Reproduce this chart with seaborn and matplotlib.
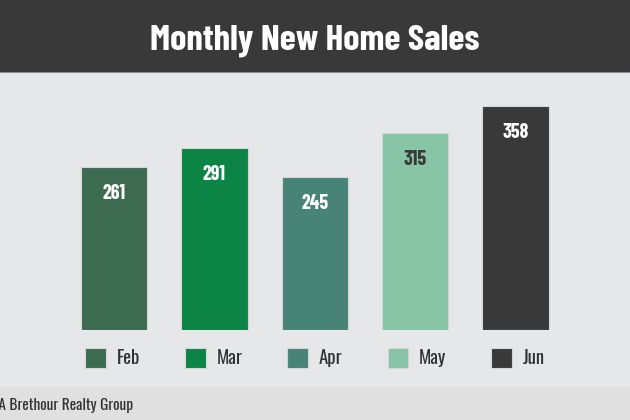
import matplotlib
matplotlib.use("Agg")
import matplotlib.pyplot as plt
from matplotlib.patches import Patch, Rectangle
import seaborn as sns
import pandas as pd

# chart data
months = ["Feb", "Mar", "Apr", "May", "Jun"]
sales = [261, 291, 245, 315, 358]
bar_colors = ["#3d6b51", "#0b8445", "#478377", "#87c5a6", "#383938"]
label_colors = ["white", "white", "white", "#383938", "white"]

TITLE = "Monthly New Home Sales"
CREDIT = "RPMA Brethour Realty Group"

BG = "#e6e7e9"
HEADER = "#383938"
FOOTER = "#e0e0e0"
HEAVY = ["Barlow Condensed", "DejaVu Sans"]

sns.set_style("white")
plt.rcParams["font.family"] = ["Oswald", "Barlow Condensed", "DejaVu Sans"]

df = pd.DataFrame({"month": months, "sales": sales})

fig = plt.figure(figsize=(6.3, 4.2), dpi=100, facecolor=BG)

# header and footer bands
fig.patches.append(Rectangle((0, 0.8286), 1, 0.1714, transform=fig.transFigure,
                             facecolor=HEADER, edgecolor="none", zorder=0))
fig.patches.append(Rectangle((0, 0.8262), 1, 0.0026, transform=fig.transFigure,
                             facecolor="#8a8a8a", edgecolor="none", zorder=0))
fig.patches.append(Rectangle((0, 0), 1, 0.0786, transform=fig.transFigure,
                             facecolor=FOOTER, edgecolor="none", zorder=0))

fig.text(0.5, 0.881, TITLE, ha="center", va="baseline", color="white",
         fontsize=26.5, fontweight="bold", family=HEAVY)
fig.text(0.211, 0.0238, CREDIT, ha="right", va="baseline", color="#333333",
         fontsize=11)

ax = fig.add_axes([0.1013, 0.2131, 0.7967, 0.5971])
ax.set_facecolor(BG)
sns.barplot(data=df, x="month", y="sales", hue="month", palette=bar_colors,
            saturation=1, width=0.66, legend=False, ax=ax,
            edgecolor="#d3d6d5", linewidth=0.8)
ax.set_ylim(0, 400)
ax.set_xlim(-0.5, 4.5)
ax.set_xlabel("")
ax.set_ylabel("")
ax.set_xticks([])
ax.set_yticks([])
for s in ax.spines.values():
    s.set_visible(False)

# value labels inside the bars
for i, v in enumerate(sales):
    ax.annotate(str(v), (i, v), xytext=(0, -23), textcoords="offset points",
                ha="center", va="baseline", color=label_colors[i],
                fontsize=14.4, fontweight="bold", family=HEAVY)

# legend below the bars
handles = [Patch(facecolor=c, edgecolor="#d3d6d5", linewidth=0.8) for c in bar_colors]
fig.legend(handles, months, loc="center", bbox_to_anchor=(0.5, 0.1476), ncol=5,
           frameon=False, fontsize=13.5, labelcolor="#333333", handlelength=1.1,
           handleheight=1.3, handletextpad=0.58, columnspacing=2.4,
           borderpad=0, borderaxespad=0)

fig.savefig("out.png", dpi=100, facecolor=BG)
